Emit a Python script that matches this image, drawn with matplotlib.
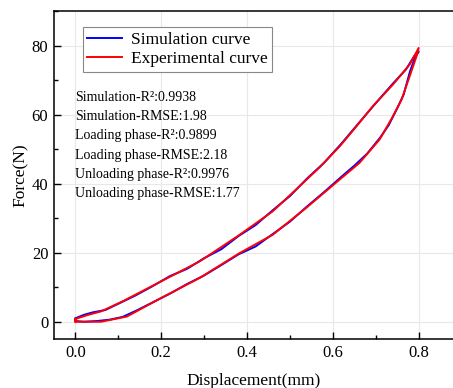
import matplotlib
matplotlib.use('Agg')
import matplotlib.pyplot as plt
from matplotlib.ticker import MultipleLocator

plt.rcParams['font.family'] = ['Liberation Serif', 'DejaVu Serif']

# experimental loop: loading branch then unloading branch
exp_x = [0.0, 0.0, 0.03, 0.06, 0.11, 0.2, 0.29, 0.383, 0.46, 0.522, 0.569, 0.616, 0.655, 0.693,
         0.74, 0.779, 0.8,
         0.795, 0.779, 0.76, 0.736, 0.709, 0.662, 0.616, 0.538, 0.46, 0.383, 0.29, 0.2, 0.12,
         0.06, 0.0, 0.0]
exp_y = [0.0, 0.8, 2.0, 3.0, 5.9, 11.7, 17.5, 25.2, 32.0, 39.2, 44.7, 50.8, 56.6, 62.4,
         68.7, 74.5, 79.3,
         76.9, 71.1, 64.3, 58.6, 52.8, 46.0, 41.2, 33.0, 25.2, 19.9, 12.7, 6.9, 1.5,
         0.0, 0.0, 0.8]

# simulated loop (slightly stepped)
sim_x = [0.0, 0.02, 0.04, 0.07, 0.1, 0.14, 0.18, 0.22, 0.26, 0.3, 0.34, 0.38, 0.42, 0.46,
         0.5, 0.54, 0.58, 0.62, 0.66, 0.7, 0.74, 0.77, 0.79, 0.8,
         0.79, 0.78, 0.765, 0.75, 0.73, 0.71, 0.68, 0.65, 0.62, 0.58, 0.54, 0.5, 0.46,
         0.42, 0.38, 0.34, 0.3, 0.26, 0.22, 0.18, 0.14, 0.11, 0.08, 0.05, 0.02, 0.0]
sim_y = [1.0, 2.0, 2.7, 3.4, 5.2, 7.6, 10.3, 13.2, 15.3, 18.4, 21.0, 24.8, 28.0, 32.3,
         36.4, 41.5, 46.1, 51.6, 57.5, 63.3, 69.0, 73.0, 77.0, 78.3,
         76.0, 72.6, 65.8, 61.8, 56.9, 53.3, 48.7, 45.2, 42.0, 37.6, 33.4, 29.0, 25.4,
         21.8, 19.5, 16.4, 13.4, 10.9, 8.1, 5.6, 3.1, 1.4, 0.6, 0.2, 0.0, 0.2]

stats = ['Simulation-R²:0.9938',
         'Simulation-RMSE:1.98',
         'Loading phase-R²:0.9899',
         'Loading phase-RMSE:2.18',
         'Unloading phase-R²:0.9976',
         'Unloading phase-RMSE:1.77']

fig = plt.figure(figsize=(4.53, 3.88), dpi=100)
ax = fig.add_axes([0.119, 0.1263, 0.881, 0.8453])

ax.plot(sim_x, sim_y, color='#0000ff', lw=1.4, label='Simulation curve')
ax.plot(exp_x, exp_y, color='#ff0000', lw=1.4, label='Experimental curve')

ax.set_xlim(-0.05, 0.88)
ax.set_ylim(-5, 90)
ax.xaxis.set_major_locator(MultipleLocator(0.2))
ax.xaxis.set_minor_locator(MultipleLocator(0.1))
ax.yaxis.set_major_locator(MultipleLocator(20))
ax.yaxis.set_minor_locator(MultipleLocator(10))
ax.set_xticks([0.0, 0.2, 0.4, 0.6, 0.8])
ax.set_xticklabels(['0.0', '0.2', '0.4', '0.6', '0.8'])
ax.tick_params(which='major', direction='in', length=5, width=1, labelsize=12, pad=4)
ax.tick_params(which='minor', direction='in', length=3, width=1)
ax.grid(True, which='major', color='#e8e8e8', lw=0.8)
ax.set_axisbelow(True)
ax.spines['right'].set_visible(False)
for s in ['left', 'bottom', 'top']:
    ax.spines[s].set_linewidth(1.1)

ax.set_xlabel('Displacement(mm)', fontsize=12.5, labelpad=9)
ax.set_ylabel('Force(N)', fontsize=12.5, labelpad=2)

leg = ax.legend(loc='upper left', bbox_to_anchor=(0.073, 0.951), borderaxespad=0,
                fontsize=12.5, fancybox=False, edgecolor='#888888', framealpha=1,
                handlelength=2.0, borderpad=0.25, labelspacing=0.2, handletextpad=0.5)
leg.get_frame().set_linewidth(0.8)

for i, t in enumerate(stats):
    ax.text(0.0, 65 - i * 5.6, t, fontsize=10, va='center', ha='left')

fig.savefig('out.png', dpi=100)
